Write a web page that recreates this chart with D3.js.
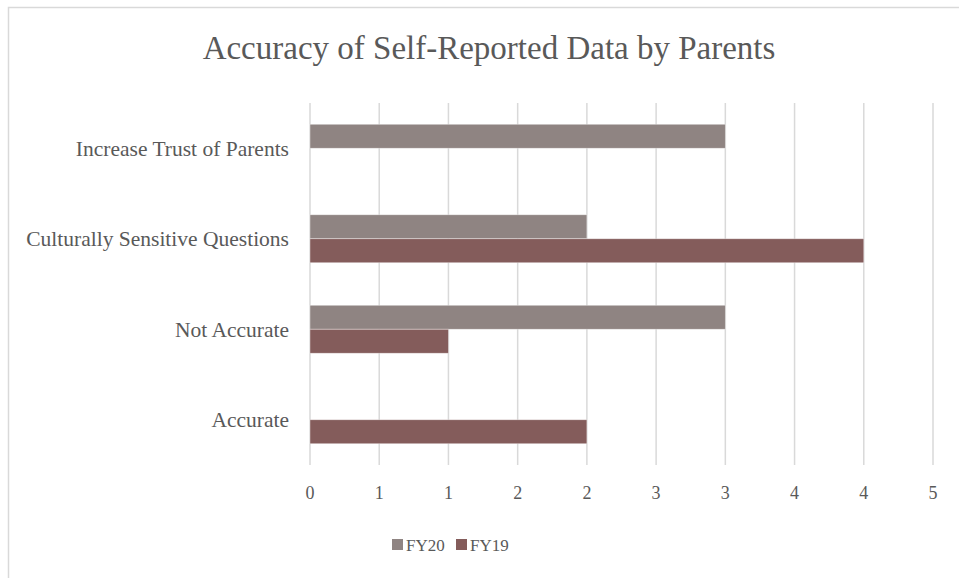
<!DOCTYPE html>
<html>
<head>
<meta charset="utf-8">
<script src="https://cdn.jsdelivr.net/npm/d3@7"></script>
<style>
  html, body { margin: 0; padding: 0; background: #fff; }
  svg { display: block; }
  text { font-family: "Liberation Serif", "DejaVu Serif", serif; fill: #595959; }
</style>
</head>
<body>
<svg id="chart" width="959" height="578"></svg>
<script>
// Response categories, bottom to top as listed on the axis
const categories = ["Accurate", "Not Accurate", "Culturally Sensitive Questions", "Increase Trust of Parents"];
const seriesNames = ["FY20", "FY19"];
const fy20 = [0, 3, 2, 3];
const fy19 = [2, 1, 4, 0];
// Axis steps of 0.5, shown with whole-number formatting
const tickValues = [0, 0.5, 1, 1.5, 2, 2.5, 3, 3.5, 4, 4.5];
const tickLabels = ["0", "1", "1", "2", "2", "3", "3", "4", "4", "5"];
const colors = { FY20: "#8f8482", FY19: "#845c5b" };

const svg = d3.select("#chart");
const W = 959, H = 578;

// Chart frame
svg.append("rect")
  .attr("x", 8.5).attr("y", 7.5)
  .attr("width", W + 10).attr("height", H + 10)
  .attr("fill", "#fff").attr("stroke", "#d9d9d9").attr("stroke-width", 1.5);

const plot = { left: 310, right: 933, top: 103, bottom: 465 };

const x = d3.scaleLinear().domain([0, 4.5]).range([plot.left, plot.right]);

// Categories stacked from the bottom upward
const y = d3.scaleBand()
  .domain(categories.slice().reverse())
  .range([plot.top, plot.bottom])
  .paddingInner(0.47)
  .paddingOuter(0.235);

const inner = d3.scaleBand().domain(seriesNames).range([0, y.bandwidth()]);

// Vertical gridlines
svg.append("g").selectAll("line")
  .data(tickValues)
  .join("line")
  .attr("x1", d => x(d)).attr("x2", d => x(d))
  .attr("y1", plot.top).attr("y2", plot.bottom)
  .attr("stroke", "#d9d9d9").attr("stroke-width", 1.5);

// Bars
const rows = categories.map((c, i) => ({ cat: c, FY20: fy20[i], FY19: fy19[i] }));
const groups = svg.append("g").selectAll("g")
  .data(rows)
  .join("g")
  .attr("transform", d => `translate(0,${y(d.cat)})`);

groups.selectAll("rect")
  .data(d => seriesNames.map(s => ({ s, v: d[s] })).filter(e => e.v > 0))
  .join("rect")
  .attr("x", x(0))
  .attr("y", d => inner(d.s))
  .attr("width", d => x(d.v) - x(0))
  .attr("height", inner.bandwidth())
  .attr("fill", d => colors[d.s])
  .attr("stroke", "#ffffff").attr("stroke-opacity", 0.5).attr("stroke-width", 0.75);

// Category labels
svg.append("g").selectAll("text")
  .data(categories)
  .join("text")
  .attr("x", 289)
  .attr("y", d => y(d) + y.bandwidth() / 2)
  .attr("dy", "0.35em")
  .attr("text-anchor", "end")
  .attr("font-size", 21.5)
  .text(d => d);

// Value axis labels
svg.append("g").selectAll("text")
  .data(tickValues)
  .join("text")
  .attr("x", d => x(d))
  .attr("y", 499)
  .attr("text-anchor", "middle")
  .attr("font-size", 18)
  .text((d, i) => tickLabels[i]);

// Title
svg.append("text")
  .attr("x", 489).attr("y", 59)
  .attr("text-anchor", "middle")
  .attr("font-size", 33)
  .text("Accuracy of Self-Reported Data by Parents");

// Legend
const legend = svg.append("g");
const legendX = [392, 456];
seriesNames.forEach((s, i) => {
  legend.append("rect")
    .attr("x", legendX[i]).attr("y", 539)
    .attr("width", 11).attr("height", 11)
    .attr("fill", colors[s]);
  legend.append("text")
    .attr("x", legendX[i] + 14).attr("y", 551)
    .attr("font-size", 17)
    .text(s);
});
</script>
</body>
</html>
